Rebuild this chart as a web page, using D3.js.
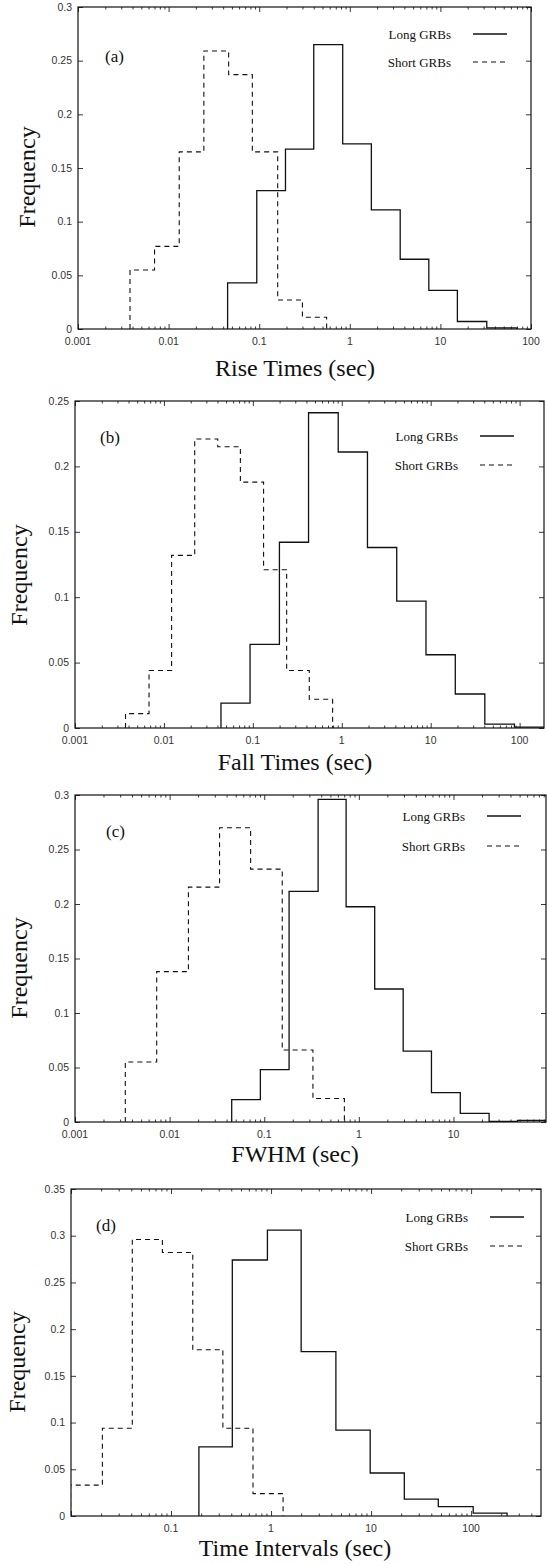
<!DOCTYPE html>
<html>
<head>
<meta charset="utf-8">
<script src="https://cdn.jsdelivr.net/npm/d3@7"></script>
<style>
  body { margin: 0; background: #fff; }
  svg { display: block; }
  .tick-label { font-family: "Liberation Sans", Arial, sans-serif; font-size: 10.5px; fill: #333; }
  .serif { font-family: "Liberation Serif", "Times New Roman", serif; fill: #111; }
</style>
</head>
<body>
<script>
// bin edges (sec) and frequencies
const riseLongEdges = [0.0448, 0.094, 0.195, 0.40, 0.835, 1.73, 3.6, 7.45, 15.4, 32.5, 70]
const riseLongFreq = [0.043, 0.129, 0.1675, 0.265, 0.1725, 0.111, 0.065, 0.036, 0.007, 0.001]
const riseShortEdges = [0.00375, 0.007, 0.0131, 0.0245, 0.046, 0.084, 0.16, 0.30, 0.555]
const riseShortFreq = [0.055, 0.077, 0.165, 0.259, 0.237, 0.165, 0.027, 0.011]

const fallLongEdges = [0.0438, 0.093, 0.199, 0.423, 0.912, 1.945, 4.15, 8.85, 18.9, 40.6, 87.4, 188]
const fallLongFreq = [0.019, 0.064, 0.142, 0.241, 0.211, 0.138, 0.097, 0.056, 0.026, 0.003, 0.0007]
const fallShortEdges = [0.0037, 0.0068, 0.0122, 0.0222, 0.0403, 0.0724, 0.132, 0.24, 0.431, 0.789]
const fallShortFreq = [0.011, 0.044, 0.132, 0.221, 0.215, 0.188, 0.121, 0.044, 0.022]

const fwhmLongEdges = [0.0453, 0.091, 0.183, 0.371, 0.733, 1.47, 2.94, 5.85, 11.8, 23.8, 47.5, 95]
const fwhmLongFreq = [0.0205, 0.048, 0.2115, 0.296, 0.1975, 0.122, 0.065, 0.027, 0.008, 0.0006, 0.0015]
const fwhmShortEdges = [0.0034, 0.0073, 0.0158, 0.0337, 0.0718, 0.155, 0.327, 0.703]
const fwhmShortFreq = [0.055, 0.138, 0.2155, 0.270, 0.232, 0.066, 0.0215]

const intLongEdges = [0.19, 0.41, 0.92, 2.0, 4.45, 9.8, 21.5, 47, 105, 229]
const intLongFreq = [0.074, 0.274, 0.306, 0.176, 0.092, 0.046, 0.018, 0.010, 0.003]
const intShortEdges = [0.0099, 0.0206, 0.041, 0.082, 0.165, 0.33, 0.66, 1.32]
const intShortFreq = [0.033, 0.094, 0.296, 0.282, 0.178, 0.094, 0.024]

// axis ranges and tick labels
const riseXDomain = [0.001, 100], fallXDomain = [0.001, 188], fwhmXDomain = [0.001, 95], intXDomain = [0.01, 500]
const riseXTicks = [0.001, 0.01, 0.1, 1, 10, 100]
const fallXTicks = [0.001, 0.01, 0.1, 1, 10, 100]
const fwhmXTicks = [0.001, 0.01, 0.1, 1, 10]
const intXTicks = [0.1, 1, 10, 100]
const riseYTicks = [0, 0.05, 0.1, 0.15, 0.2, 0.25, 0.3]
const fallYTicks = [0, 0.05, 0.1, 0.15, 0.2, 0.25]
const fwhmYTicks = [0, 0.05, 0.1, 0.15, 0.2, 0.25, 0.3]
const intYTicks = [0, 0.05, 0.1, 0.15, 0.2, 0.25, 0.3, 0.35]

const xTitles = ['Rise Times (sec)', 'Fall Times (sec)', 'FWHM (sec)', 'Time Intervals (sec)']
const panelTags = ['(a)', '(b)', '(c)', '(d)']
const seriesNames = ['Long GRBs', 'Short GRBs']

const width = 547
const height = 1564

const svg = d3.select('body').append('svg').attr('width', width).attr('height', height)

// layout of each panel (pixels)
const panels = [
  {box: [78, 531, 7, 329], xt: 376, yl: [35, 177], tag: [105, 62], leg: [80, 27, 55],
   xDomain: riseXDomain, xTicks: riseXTicks, yTicks: riseYTicks,
   long: [riseLongEdges, riseLongFreq], short: [riseShortEdges, riseShortFreq]},
  {box: [75, 544, 401, 728], xt: 770, yl: [27, 575], tag: [100, 443], leg: [86, 35, 64],
   xDomain: fallXDomain, xTicks: fallXTicks, yTicks: fallYTicks,
   long: [fallLongEdges, fallLongFreq], short: [fallShortEdges, fallShortFreq]},
  {box: [75, 546, 795, 1122], xt: 1162, yl: [27, 968], tag: [106, 837], leg: [81, 21, 51],
   xDomain: fwhmXDomain, xTicks: fwhmXTicks, yTicks: fwhmYTicks,
   long: [fwhmLongEdges, fwhmLongFreq], short: [fwhmShortEdges, fwhmShortFreq]},
  {box: [71, 541, 1189, 1516], xt: 1556, yl: [25, 1362], tag: [96, 1231], leg: [73, 28, 57],
   xDomain: intXDomain, xTicks: intXTicks, yTicks: intYTicks,
   long: [intLongEdges, intLongFreq], short: [intShortEdges, intShortFreq]}
]

const fmt = v => v >= 1 ? d3.format('d')(v) : String(+v.toPrecision(3))

function stepPoints(edges, freq) {
  var pts = [[edges[0], 0]]
  freq.forEach((f, i) => {
    pts.push([edges[i], f])
    pts.push([edges[i + 1], f])
  })
  pts.push([edges[edges.length - 1], 0])
  return pts
}

panels.forEach((p, k) => {
  const [left, right, top, bottom] = p.box
  const x = d3.scaleLog().domain(p.xDomain).range([left, right])
  const y = d3.scaleLinear().domain([0, p.yTicks[p.yTicks.length - 1]]).range([bottom, top])
  const g = svg.append('g')

  g.append('clipPath').attr('id', 'clip' + k)
    .append('rect').attr('x', left).attr('y', top).attr('width', right - left).attr('height', bottom - top)

  // minor/major ticks on bottom and top (inward)
  const majors = d3.range(Math.ceil(Math.log10(p.xDomain[0]) - 1e-9), Math.floor(Math.log10(p.xDomain[1]) + 1e-9) + 1).map(e => Math.pow(10, e))
  const minors = []
  majors.concat([majors[0] / 10]).forEach(m => {
    for (let j = 2; j <= 9; j++) {
      const v = m * j
      if (v > p.xDomain[0] && v < p.xDomain[1]) minors.push(v)
    }
  })

  const axisBottom = d3.axisBottom(x).tickValues(majors).tickSize(-5).tickFormat('')
  const axisBottomMinor = d3.axisBottom(x).tickValues(minors).tickSize(-2.5).tickFormat('')
  const axisTop = d3.axisTop(x).tickValues(majors).tickSize(-5).tickFormat('')
  const axisTopMinor = d3.axisTop(x).tickValues(minors).tickSize(-2.5).tickFormat('')
  const axisLeft = d3.axisLeft(y).tickValues(p.yTicks).tickSize(-5).tickFormat('')
  const axisRight = d3.axisRight(y).tickValues(p.yTicks).tickSize(-5).tickFormat('')

  const axes = g.append('g').attr('class', 'axes')
  axes.append('g').attr('transform', `translate(0, ${bottom})`).call(axisBottom)
  axes.append('g').attr('transform', `translate(0, ${bottom})`).call(axisBottomMinor)
  axes.append('g').attr('transform', `translate(0, ${top})`).call(axisTop)
  axes.append('g').attr('transform', `translate(0, ${top})`).call(axisTopMinor)
  axes.append('g').attr('transform', `translate(${left}, 0)`).call(axisLeft)
  axes.append('g').attr('transform', `translate(${right}, 0)`).call(axisRight)
  axes.selectAll('.domain').remove()
  axes.selectAll('.tick line').attr('stroke', '#222').attr('stroke-width', 0.9)

  // tick labels
  g.selectAll('text.xl').data(p.xTicks).enter().append('text')
    .attr('class', 'tick-label').attr('x', d => x(d)).attr('y', bottom + 16)
    .attr('text-anchor', 'middle').text(fmt)
  g.selectAll('text.yl').data(p.yTicks).enter().append('text')
    .attr('class', 'tick-label').attr('x', left - 6).attr('y', d => y(d)).attr('dy', '0.35em')
    .attr('text-anchor', 'end').text(d => String(d))

  // histograms
  const line = d3.line().x(d => x(d[0])).y(d => y(d[1]))
  const hist = g.append('g').attr('clip-path', `url(#clip${k})`)
  hist.append('path').attr('d', line(stepPoints(p.short[0], p.short[1])))
    .attr('fill', 'none').attr('stroke', '#111').attr('stroke-width', 1.1).attr('stroke-dasharray', '5,4')
  hist.append('path').attr('d', line(stepPoints(p.long[0], p.long[1])))
    .attr('fill', 'none').attr('stroke', '#111').attr('stroke-width', 1.3)

  // frame
  g.append('rect').attr('x', left).attr('y', top).attr('width', right - left).attr('height', bottom - top)
    .attr('fill', 'none').attr('stroke', '#111').attr('stroke-width', 1.2)

  // legend
  const [lr, ly1, ly2] = p.leg
  const tx = right - lr
  seriesNames.forEach((name, i) => {
    const ly = top + (i === 0 ? ly1 : ly2)
    g.append('text').attr('class', 'serif').attr('x', tx).attr('y', ly + 4.5)
      .attr('text-anchor', 'end').style('font-size', '13px').text(name)
    g.append('line').attr('x1', tx + 22).attr('x2', tx + 56).attr('y1', ly).attr('y2', ly)
      .attr('stroke', '#111').attr('stroke-width', i === 0 ? 1.3 : 1.1)
      .attr('stroke-dasharray', i === 0 ? null : '5,4')
  })

  // panel tag
  g.append('text').attr('class', 'serif').attr('x', p.tag[0]).attr('y', p.tag[1])
    .style('font-size', '17px').text(panelTags[k])

  // axis titles
  g.append('text').attr('class', 'serif').attr('x', 295).attr('y', p.xt)
    .attr('text-anchor', 'middle').style('font-size', '24px').text(xTitles[k])
  g.append('text').attr('class', 'serif')
    .attr('transform', `translate(${p.yl[0]}, ${p.yl[1]}) rotate(-90)`)
    .attr('text-anchor', 'middle').style('font-size', '24px').text('Frequency')
})
</script>
</body>
</html>
